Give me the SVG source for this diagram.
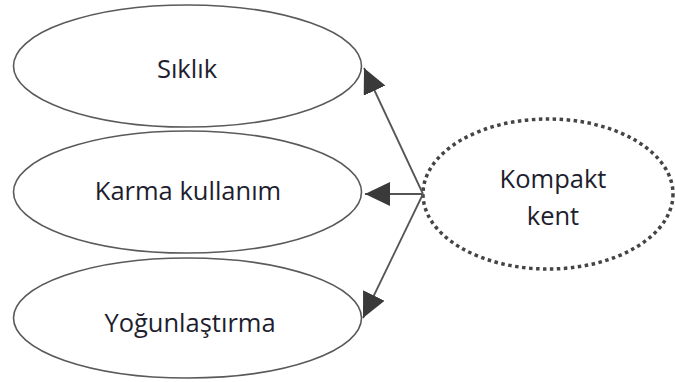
<svg xmlns="http://www.w3.org/2000/svg" width="675" height="382" viewBox="0 0 675 382">
<defs>
<style>
.node{fill:#fff;stroke:#5a5a5a;stroke-width:1.6}
.dot{fill:#fff;stroke:#444;stroke-width:3.5;stroke-dasharray:3.5 3.5}
.lbl{font-family:"Open Sans","Liberation Sans",sans-serif;font-size:25.5px;fill:#1e1e2e;text-anchor:middle}
.conn{stroke:#555;stroke-width:1.8;fill:none}
</style>
<marker id="ah" markerUnits="userSpaceOnUse" markerWidth="26" markerHeight="24" refX="25" refY="12" orient="auto">
<path d="M0,0 L25,12 L0,24 z" fill="#3a3a3a"/>
</marker>
</defs>
<rect width="675" height="382" fill="#fff"/>
<g id="siklik">
<ellipse class="node" cx="187.5" cy="66" rx="174" ry="61"/>
<text class="lbl" x="187" y="78">Sıklık</text>
</g>
<g id="karma">
<ellipse class="node" cx="187.5" cy="192" rx="174" ry="61"/>
<text class="lbl" x="188" y="200">Karma kullanım</text>
</g>
<g id="yogun">
<ellipse class="node" cx="187.5" cy="318" rx="174" ry="60"/>
<text class="lbl" x="190" y="332">Yoğunlaştırma</text>
</g>
<g id="kompakt">
<ellipse class="dot" cx="548" cy="194" rx="125" ry="75"/>
<text class="lbl" x="553" y="188">Kompakt</text>
<text class="lbl" x="553" y="225">kent</text>
</g>
<g id="connectors">
<line class="conn" x1="423" y1="194" x2="364" y2="68" marker-end="url(#ah)"/>
<line class="conn" x1="423" y1="194" x2="365" y2="194" marker-end="url(#ah)"/>
<line class="conn" x1="423" y1="194" x2="363" y2="318" marker-end="url(#ah)"/>
</g>
</svg>
